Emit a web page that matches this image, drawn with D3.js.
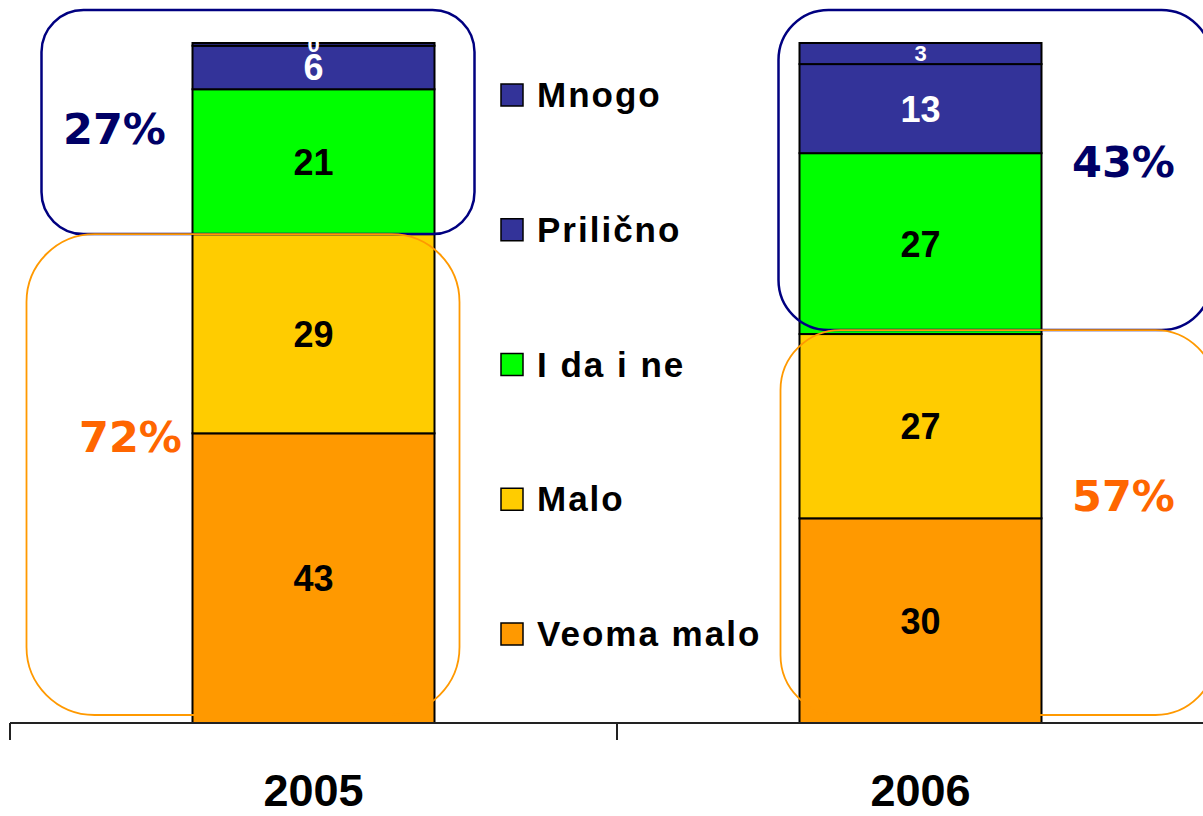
<!DOCTYPE html>
<html>
<head>
<meta charset="utf-8">
<script src="https://cdn.jsdelivr.net/npm/d3@7"></script>
<style>
  html, body { margin: 0; padding: 0; background: #fff; }
  svg { display: block; }
  text { font-family: 'Liberation Sans', Arial, sans-serif; font-weight: bold; }
</style>
</head>
<body>
<svg id="chart" width="1203" height="816"></svg>
<script>
// data
const years = ['2005', '2006'];
const categories = ['Veoma malo', 'Malo', 'I da i ne', 'Prilično', 'Mnogo'];
const veomaMalo = [42.6, 30.1];
const malo = [29.3, 27.1];
const daNe = [21.3, 26.6];
const prilicno = [6.4, 13.1];
const mnogo = [0.4, 3.1];
const colors = ['#FF9900', '#FFCC00', '#00FF00', '#333399', '#333399'];

const c = {
  width: 1203,
  height: 816,
  axisY: 723,
  topY: 43,
  barWidth: 242,
  fontSize: 36,
  smallFont: 22,
};

const rows = years.map((y, i) => ({
  year: y,
  'Veoma malo': veomaMalo[i],
  'Malo': malo[i],
  'I da i ne': daNe[i],
  'Prilično': prilicno[i],
  'Mnogo': mnogo[i],
}));

const svg = d3.select('#chart');

const xScale = d3.scaleBand(years, [10, 1224]).padding(0);
const yScale = d3.scaleLinear([0, 100], [c.axisY, c.topY]);
const colorScale = d3.scaleOrdinal(categories, colors);

const series = d3.stack().keys(categories)(rows);

const barX = (year) => xScale(year) + (xScale.bandwidth() - c.barWidth) / 2;

// bars
const groups = svg.append('g').classed('plot', true)
  .selectAll('g')
  .data(series)
  .join('g')
  .attr('fill', (d) => colorScale(d.key));

groups.selectAll('rect')
  .data((d) => d)
  .join('rect')
  .attr('x', (d) => barX(d.data.year))
  .attr('y', (d) => yScale(d[1]))
  .attr('width', c.barWidth)
  .attr('height', (d) => yScale(d[0]) - yScale(d[1]))
  .attr('stroke', '#000')
  .attr('stroke-width', 2);

// axis
const axis = svg.append('g').classed('x-axis', true);
axis.append('line')
  .attr('x1', 10).attr('x2', c.width)
  .attr('y1', c.axisY).attr('y2', c.axisY)
  .attr('stroke', '#222').attr('stroke-width', 2);
axis.selectAll('line.tick')
  .data(years)
  .join('line')
  .classed('tick', true)
  .attr('x1', (d) => xScale(d)).attr('x2', (d) => xScale(d))
  .attr('y1', c.axisY).attr('y2', c.axisY + 17)
  .attr('stroke', '#222').attr('stroke-width', 2);
axis.selectAll('text')
  .data(years)
  .join('text')
  .attr('x', (d) => xScale(d) + xScale.bandwidth() / 2)
  .attr('y', 806)
  .attr('text-anchor', 'middle')
  .attr('font-size', 45)
  .attr('fill', '#000')
  .text((d) => d);

// group boxes (top = I da i ne + Prilično + Mnogo, bottom = Veoma malo + Malo)
const rounded = rows.map((r) => categories.map((k) => Math.round(r[k])));
const boxes = [
  { year: '2005', part: 'top', l: -151, r: 40, fy: 0.53, tx: -78, color: '#000080', text: '#000066', rad: 42 },
  { year: '2005', part: 'bottom', l: -166, r: 25, fy: 0.42, tx: -62, color: '#FF9900', text: '#FF6600', rad: 68 },
  { year: '2006', part: 'top', l: -21, r: 170, fy: 0.475, tx: c.barWidth + 82, color: '#000080', text: '#000066', rad: 50 },
  { year: '2006', part: 'bottom', l: -19, r: 174, fy: 0.43, tx: c.barWidth + 82, color: '#FF9900', text: '#FF6600', rad: 60 },
];

boxes.forEach((b) => {
  const i = years.indexOf(b.year);
  const split = rows[i]['Veoma malo'] + rows[i]['Malo'];
  const splitY = yScale(split) - (b.year === '2006' ? 4 : 0);
  b.y0 = b.part === 'top' ? yScale(100) - 33 : splitY;
  b.y1 = b.part === 'top' ? splitY : yScale(0) - 8;
  b.x0 = barX(b.year) + b.l;
  b.x1 = barX(b.year) + c.barWidth + b.r;
  const vals = rounded[i];
  b.total = b.part === 'top' ? vals[2] + vals[3] + vals[4] : vals[0] + vals[1];
});

svg.append('g').selectAll('rect')
  .data(boxes)
  .join('rect')
  .attr('x', (b) => b.x0)
  .attr('y', (b) => b.y0)
  .attr('width', (b) => b.x1 - b.x0)
  .attr('height', (b) => b.y1 - b.y0)
  .attr('rx', (b) => b.rad)
  .attr('fill', 'none')
  .attr('stroke', (b) => b.color)
  .attr('stroke-width', (b) => (b.part === 'top' ? 2.5 : 1.8));

svg.append('g').selectAll('text')
  .data(boxes)
  .join('text')
  .attr('x', (b) => barX(b.year) + b.tx)
  .attr('y', (b) => b.y0 + (b.y1 - b.y0) * b.fy)
  .attr('dy', '0.36em')
  .attr('text-anchor', 'middle')
  .style('font-family', "'DejaVu Sans', Verdana, sans-serif")
  .attr('font-size', 43)
  .attr('fill', (b) => b.text)
  .text((b) => `${b.total}%`);

// segment labels
groups.selectAll('text')
  .data((d) => d.map((p) => ({ p, key: d.key })))
  .join('text')
  .attr('x', (d) => barX(d.p.data.year) + c.barWidth / 2)
  .attr('y', (d) => (yScale(d.p[0]) + yScale(d.p[1])) / 2)
  .attr('dy', '0.36em')
  .attr('text-anchor', 'middle')
  .attr('font-size', (d) => (yScale(d.p[0]) - yScale(d.p[1]) < 30 ? c.smallFont : c.fontSize))
  .attr('fill', (d) => (d.key === 'Prilično' || d.key === 'Mnogo' ? '#fff' : '#000'))
  .text((d) => Math.round(d.p[1] - d.p[0]));

// legend
const legendItems = categories.slice().reverse();
const legendY = d3.scalePoint(legendItems, [107, 646]);
const legend = svg.append('g').classed('leg', true)
  .selectAll('g')
  .data(legendItems)
  .join('g')
  .attr('transform', (d) => `translate(0, ${legendY(d)})`);

legend.append('rect')
  .attr('x', 501).attr('y', -23)
  .attr('width', 22).attr('height', 22)
  .attr('fill', (d) => colorScale(d))
  .attr('stroke', '#000').attr('stroke-width', 1.5);

legend.append('text')
  .attr('x', 537).attr('y', 0)
  .attr('font-size', 35)
  .attr('letter-spacing', 2)
  .attr('fill', '#000')
  .text((d) => d);
</script>
</body>
</html>
